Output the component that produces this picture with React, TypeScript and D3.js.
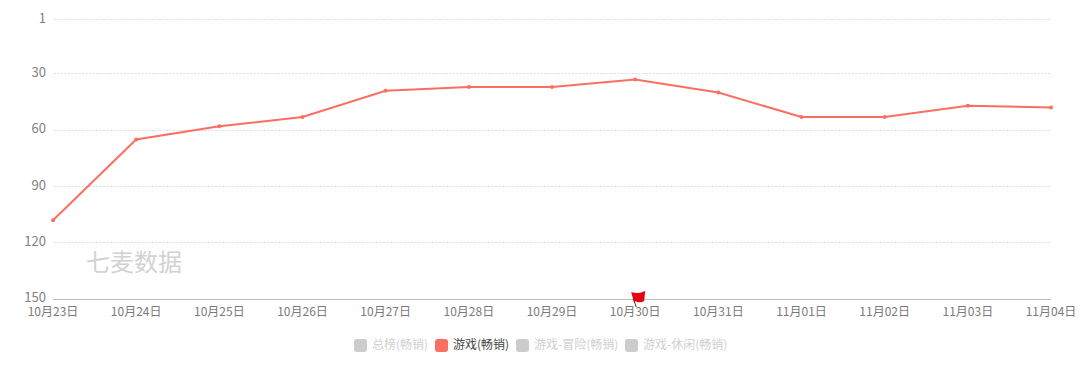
import React from 'react';
import * as d3 from 'd3';

const categories = ['10月23日','10月24日','10月25日','10月26日','10月27日','10月28日','10月29日','10月30日','10月31日','11月01日','11月02日','11月03日','11月04日'];
const rankValues = [108,65,58,53,39,37,37,33,40,53,53,47,48];
const yTicks = [1,30,60,90,120,150];
const legendItems = ['总榜(畅销)','游戏(畅销)','游戏-冒险(畅销)','游戏-休闲(畅销)'];
const legendActive = [false,true,false,false];
const legendX = [354,435,516,625];
const flagCategory = '10月30日';
const font = '"Noto Sans CJK SC", "Noto Sans", sans-serif';

export default function App() {
  const x = d3.scalePoint<string>().domain(categories).range([53,1051]);
  const y = d3.scaleLinear().domain([1,150]).range([19,298.6]);
  const line = d3.line<number>().x((_, i) => x(categories[i]) as number).y(d => y(d) + 0.4);
  const fx = x(flagCategory) as number;
  const axisY = Math.round(y(150)) + 0.5;
  return (
    <svg width={1080} height={376} style={{position:'absolute',left:0,top:0,background:'#fff'}} fontFamily={font}>
      {yTicks.map(t => (
        <g key={t}>
          {t !== 150 && <line x1={54} x2={1051} y1={Math.round(y(t))+0.5} y2={Math.round(y(t))+0.5} stroke="#dcdcdc" strokeWidth={1} strokeDasharray="2 1.5" />}
          <text x={46} y={y(t)+3.6} textAnchor="end" fontSize={13} fill="#7f7f7f">{t}</text>
        </g>
      ))}
      <line x1={53} x2={1051} y1={axisY} y2={axisY} stroke="#b9bdc7" strokeWidth={1} />
      {categories.map(c => (
        <text key={c} x={x(c) as number} y={316} textAnchor="middle" fontSize={12} fill="#7a7a7a">{c}</text>
      ))}
      <text x={86} y={271} fontSize={24} fill="#d2d2d2">七麦数据</text>
      <path d={line(rankValues) as string} fill="none" stroke="#fb6e62" strokeWidth={2} />
      {rankValues.map((v,i) => (
        <circle key={i} cx={x(categories[i]) as number} cy={y(v) + 0.4} r={2} fill="#fb6e62" />
      ))}
      <g transform={`translate(${fx},0)`}>
        <path d="M1,307 L-2,298" stroke="#333" strokeWidth={1} fill="none" />
        <path d="M-4,292 Q-1,293 2,293 Q6,293 10,291 L9,301 Q6,303 2,302 Q0,300 -1,303 Z" fill="#e60012" />
      </g>
      {legendItems.map((l,i) => (
        <g key={l}>
          <rect x={legendX[i]} y={339} width={13} height={13} rx={3} fill={legendActive[i] ? '#fb6e62' : '#cccccc'} />
          <text x={legendX[i]+18} y={349} fontSize={12} fill={legendActive[i] ? '#444444' : '#d0d0d0'}>{l}</text>
        </g>
      ))}
    </svg>
  );
}
